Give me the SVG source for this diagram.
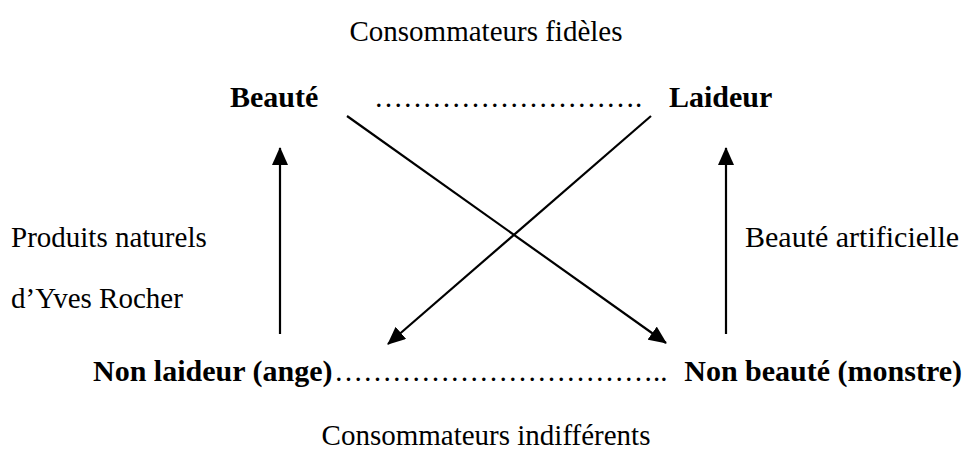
<svg xmlns="http://www.w3.org/2000/svg" width="972" height="457" viewBox="0 0 972 457">
<style>
  text { font-family: "Liberation Serif", "Times New Roman", serif; fill: #000; }
  .r { font-size: 29px; }
  .b { font-size: 30px; font-weight: bold; }
  .c { stroke: #000; stroke-width: 2.2; fill: none; }
</style>
<defs>
  <marker id="ah" viewBox="0 0 18 16" refX="17" refY="8" markerWidth="18" markerHeight="16" markerUnits="userSpaceOnUse" orient="auto">
    <path d="M0,0 L18,8 L0,16 z" fill="#000"/>
  </marker>
</defs>
<rect width="972" height="457" fill="#fff"/>
<g id="title-top"><text class="r" x="486" y="41" text-anchor="middle">Consommateurs fidèles</text></g>
<g id="beaute"><text class="b" x="230" y="107">Beauté</text></g>
<g id="dots-top"><text class="r" x="374" y="107">……………………….</text></g>
<g id="laideur"><text class="b" x="669" y="107">Laideur</text></g>
<g id="label-left">
  <text class="r" x="11" y="247">Produits naturels</text>
  <text class="r" x="11" y="308">d’Yves Rocher</text>
</g>
<g id="label-right"><text class="r" x="745" y="247" style="font-size:30px">Beauté artificielle</text></g>
<g id="non-laideur"><text class="b" x="93" y="381">Non laideur (ange)</text></g>
<g id="dots-bottom"><text class="r" x="334" y="381">……………………………..</text></g>
<g id="non-beaute"><text class="b" x="962" y="381" text-anchor="end">Non beauté (monstre)</text></g>
<g id="title-bottom"><text class="r" x="486" y="445" text-anchor="middle">Consommateurs indifférents</text></g>
<g id="connectors">
  <line class="c" x1="280" y1="334" x2="280" y2="148" marker-end="url(#ah)"/>
  <line class="c" x1="726" y1="334" x2="726" y2="148" marker-end="url(#ah)"/>
  <line class="c" x1="347" y1="116" x2="666" y2="343" marker-end="url(#ah)"/>
  <line class="c" x1="651" y1="116" x2="388" y2="344" marker-end="url(#ah)"/>
</g>
</svg>
